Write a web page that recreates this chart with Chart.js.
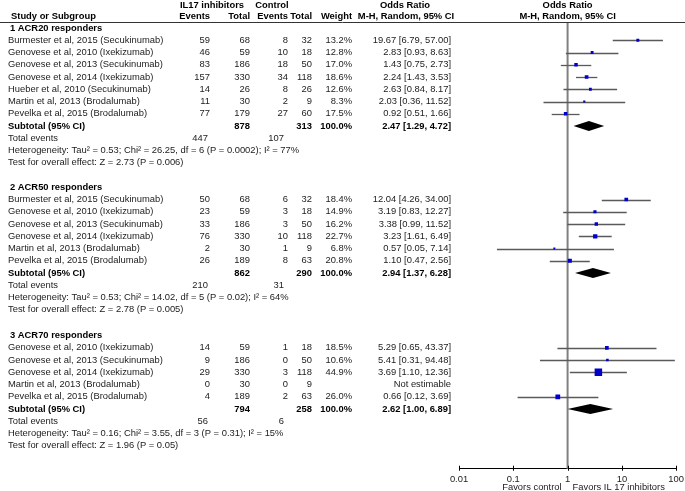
<!DOCTYPE html>
<html><head><meta charset="utf-8">
<script src="https://cdn.jsdelivr.net/npm/chart.js@4/dist/chart.umd.min.js"></script>
<style>html,body{margin:0;padding:0;background:#fff}canvas{display:block}</style>
</head><body>
<canvas id="c" width="685" height="491"></canvas>
<script>
// ---------- DATA ----------
const groupLabels = ['1 ACR20 responders', '2 ACR50 responders', '3 ACR70 responders'];

const studies20 = ['Burmester et al, 2015 (Secukinumab)', 'Genovese et al, 2010 (Ixekizumab)', 'Genovese et al, 2013 (Secukinumab)', 'Genovese et al, 2014 (Ixekizumab)', 'Hueber et al, 2010 (Secukinumab)', 'Martin et al, 2013 (Brodalumab)', 'Pevelka et al, 2015 (Brodalumab)'];
const ev1_20 = [59, 46, 83, 157, 14, 11, 77];
const tot1_20 = [68, 59, 186, 330, 26, 30, 179];
const ev2_20 = [8, 10, 18, 34, 8, 2, 27];
const tot2_20 = [32, 18, 50, 118, 26, 9, 60];
const weight20 = [13.2, 12.8, 17.0, 18.6, 12.6, 8.3, 17.5];
const or20 = [19.67, 2.83, 1.43, 2.24, 2.63, 2.03, 0.92];
const lo20 = [6.79, 0.93, 0.75, 1.43, 0.84, 0.36, 0.51];
const hi20 = [57.00, 8.63, 2.73, 3.53, 8.17, 11.52, 1.66];

const studies50 = ['Burmester et al, 2015 (Secukinumab)', 'Genovese et al, 2010 (Ixekizumab)', 'Genovese et al, 2013 (Secukinumab)', 'Genovese et al, 2014 (Ixekizumab)', 'Martin et al, 2013 (Brodalumab)', 'Pevelka et al, 2015 (Brodalumab)'];
const ev1_50 = [50, 23, 33, 76, 2, 26];
const tot1_50 = [68, 59, 186, 330, 30, 189];
const ev2_50 = [6, 3, 3, 10, 1, 8];
const tot2_50 = [32, 18, 50, 118, 9, 63];
const weight50 = [18.4, 14.9, 16.2, 22.7, 6.8, 20.8];
const or50 = [12.04, 3.19, 3.38, 3.23, 0.57, 1.10];
const lo50 = [4.26, 0.83, 0.99, 1.61, 0.05, 0.47];
const hi50 = [34.00, 12.27, 11.52, 6.49, 7.14, 2.56];

const studies70 = ['Genovese et al, 2010 (Ixekizumab)', 'Genovese et al, 2013 (Secukinumab)', 'Genovese et al, 2014 (Ixekizumab)', 'Martin et al, 2013 (Brodalumab)', 'Pevelka et al, 2015 (Brodalumab)'];
const ev1_70 = [14, 9, 29, 0, 4];
const tot1_70 = [59, 186, 330, 30, 189];
const ev2_70 = [1, 0, 3, 0, 2];
const tot2_70 = [18, 50, 118, 9, 63];
const weight70 = [18.5, 10.6, 44.9, null, 26.0];
const or70 = [5.29, 5.41, 3.69, null, 0.66];
const lo70 = [0.65, 0.31, 1.10, null, 0.12];
const hi70 = [43.37, 94.48, 12.36, null, 3.69];

const subTotal1 = [878, 862, 794];
const subTotal2 = [313, 290, 258];
const subOR = [2.47, 2.94, 2.62];
const subLo = [1.29, 1.37, 1.00];
const subHi = [4.72, 6.28, 6.89];
const totalEvents1 = [447, 210, 56];
const totalEvents2 = [107, 31, 6];
const heterogeneity = [
  'Heterogeneity: Tau\u00B2 = 0.53; Chi\u00B2 = 26.25, df = 6 (P = 0.0002); I\u00B2 = 77%',
  'Heterogeneity: Tau\u00B2 = 0.53; Chi\u00B2 = 14.02, df = 5 (P = 0.02); I\u00B2 = 64%',
  'Heterogeneity: Tau\u00B2 = 0.16; Chi\u00B2 = 3.55, df = 3 (P = 0.31); I\u00B2 = 15%'
];
const overallTest = [
  'Test for overall effect: Z = 2.73 (P = 0.006)',
  'Test for overall effect: Z = 2.78 (P = 0.005)',
  'Test for overall effect: Z = 1.96 (P = 0.05)'
];
const xTickValues = [0.01, 0.1, 1, 10, 100];
const xTickLabels = ['0.01', '0.1', '1', '10', '100'];

// ---------- LAYOUT ----------
const FONT = 'Liberation Sans, Arial, sans-serif';
const FS = 9.4;
const COL = { name: 8, grp: 10, ev1: 210, tot1: 250, ev2: 288, tot2: 312, wt: 352, orTxt: 451 };
const groupStartRows = [0, 13, 25.1];

const groups = [
  { s: studies20, e1: ev1_20, t1: tot1_20, e2: ev2_20, t2: tot2_20, w: weight20, or: or20, lo: lo20, hi: hi20 },
  { s: studies50, e1: ev1_50, t1: tot1_50, e2: ev2_50, t2: tot2_50, w: weight50, or: or50, lo: lo50, hi: hi50 },
  { s: studies70, e1: ev1_70, t1: tot1_70, e2: ev2_70, t2: tot2_70, w: weight70, or: or70, lo: lo70, hi: hi70 }
];

const studyRows = [];
const groupRows = [];
groups.forEach((g, gi) => {
  const r0 = groupStartRows[gi];
  g.s.forEach((name, i) => {
    studyRows.push({ row: r0 + 1 + i, name, e1: g.e1[i], t1: g.t1[i], e2: g.e2[i], t2: g.t2[i], w: g.w[i], or: g.or[i], lo: g.lo[i], hi: g.hi[i] });
  });
  const n = g.s.length;
  groupRows.push({ gi, header: r0, sub: r0 + n + 1, tot: r0 + n + 2, het: r0 + n + 3, test: r0 + n + 4 });
});

const fmt = v => v.toFixed(2);
const pct = v => v.toFixed(1) + '%';

const forestPlugin = {
  id: 'forest',
  beforeDatasetsDraw(chart) {
    const { ctx, scales: { x, y }, chartArea: ca } = chart;
    ctx.save();
    const x1 = x.getPixelForValue(1);
    ctx.strokeStyle = '#808080';
    ctx.lineWidth = 2;
    ctx.beginPath(); ctx.moveTo(x1, ca.top); ctx.lineTo(x1, ca.bottom); ctx.stroke();
    ctx.strokeStyle = '#5a5a5a';
    ctx.lineWidth = 1.3;
    studyRows.forEach(s => {
      if (s.or == null) return;
      const py = Math.round(y.getPixelForValue(s.row)) + 0.5;
      ctx.beginPath();
      ctx.moveTo(x.getPixelForValue(Math.max(s.lo, 0.01)), py);
      ctx.lineTo(x.getPixelForValue(Math.min(s.hi, 100)), py);
      ctx.stroke();
    });
    // axis tick marks crossing the axis line
    ctx.strokeStyle = '#000';
    ctx.lineWidth = 1;
    x.ticks.forEach(t => {
      const px = Math.round(x.getPixelForValue(t.value)) + 0.5;
      ctx.beginPath(); ctx.moveTo(px, ca.bottom - 3); ctx.lineTo(px, ca.bottom + 2); ctx.stroke();
    });
    ctx.restore();
  },
  afterDatasetsDraw(chart) {
    const { ctx, scales: { x, y } } = chart;
    ctx.save();
    // diamonds
    ctx.fillStyle = '#000';
    groupRows.forEach(g => {
      const py = y.getPixelForValue(g.sub);
      const h = 5;
      ctx.beginPath();
      ctx.moveTo(x.getPixelForValue(subLo[g.gi]), py);
      ctx.lineTo(x.getPixelForValue(subOR[g.gi]), py - h);
      ctx.lineTo(x.getPixelForValue(subHi[g.gi]), py);
      ctx.lineTo(x.getPixelForValue(subOR[g.gi]), py + h);
      ctx.closePath();
      ctx.fill();
    });
    // header line
    ctx.strokeStyle = '#333';
    ctx.lineWidth = 1;
    ctx.beginPath(); ctx.moveTo(0, 22.5); ctx.lineTo(685, 22.5); ctx.stroke();

    ctx.textBaseline = 'middle';
    const T = (txt, px, py, align, bold, color) => {
      ctx.font = (bold ? 'bold ' : '') + FS + 'px ' + FONT;
      ctx.textAlign = align;
      ctx.fillStyle = color || (bold ? '#000' : '#222');
      ctx.fillText(txt, px, py);
    };
    // headers
    T('IL17 inhibitors', 212, 5, 'center', true);
    T('Control', 272, 5, 'center', true);
    T('Odds Ratio', 405, 5, 'center', true);
    T('Odds Ratio', x.getPixelForValue(1), 5, 'center', true);
    T('Study or Subgroup', 11, 16, 'left', true);
    T('Events', COL.ev1, 16, 'right', true);
    T('Total', COL.tot1, 16, 'right', true);
    T('Events', COL.ev2, 16, 'right', true);
    T('Total', COL.tot2, 16, 'right', true);
    T('Weight', COL.wt, 16, 'right', true);
    T('M-H, Random, 95% CI', 406, 16, 'center', true);
    T('M-H, Random, 95% CI', x.getPixelForValue(1), 16, 'center', true);

    studyRows.forEach(s => {
      const py = y.getPixelForValue(s.row);
      T(s.name, COL.name, py, 'left');
      T(String(s.e1), COL.ev1, py, 'right');
      T(String(s.t1), COL.tot1, py, 'right');
      T(String(s.e2), COL.ev2, py, 'right');
      T(String(s.t2), COL.tot2, py, 'right');
      if (s.w != null) T(pct(s.w), COL.wt, py, 'right');
      T(s.or == null ? 'Not estimable' : fmt(s.or) + ' [' + fmt(s.lo) + ', ' + fmt(s.hi) + ']', COL.orTxt, py, 'right');
    });
    groupRows.forEach(g => {
      const i = g.gi;
      T(groupLabels[i], COL.grp, y.getPixelForValue(g.header), 'left', true);
      let py = y.getPixelForValue(g.sub);
      T('Subtotal (95% CI)', COL.name, py, 'left', true);
      T(String(subTotal1[i]), COL.tot1, py, 'right', true);
      T(String(subTotal2[i]), COL.tot2, py, 'right', true);
      T('100.0%', COL.wt, py, 'right', true);
      T(fmt(subOR[i]) + ' [' + fmt(subLo[i]) + ', ' + fmt(subHi[i]) + ']', COL.orTxt, py, 'right', true);
      py = y.getPixelForValue(g.tot);
      T('Total events', COL.name, py, 'left');
      T(String(totalEvents1[i]), COL.ev1 - 2, py, 'right');
      T(String(totalEvents2[i]), COL.ev2 - 4, py, 'right');
      T(heterogeneity[i], COL.name, y.getPixelForValue(g.het), 'left');
      T(overallTest[i], COL.name, y.getPixelForValue(g.test), 'left');
    });
    // favours labels
    const x1 = x.getPixelForValue(1);
    T('Favors control', x1 - 6, 487, 'right');
    T('Favors IL 17 inhibitors', x1 + 5, 487, 'left');
    ctx.restore();
  }
};

const pts = studyRows.filter(s => s.or != null);
new Chart(document.getElementById('c'), {
  type: 'scatter',
  data: {
    datasets: [{
      data: pts.map(s => ({ x: s.or, y: s.row })),
      pointStyle: 'rect',
      pointRadius: pts.map(s => (1 + s.w * 0.145) / Math.SQRT2),
      backgroundColor: '#0000CC',
      borderWidth: 0
    }]
  },
  options: {
    responsive: false,
    animation: false,
    events: [],
    layout: { padding: { left: 459, right: 8, top: 22, bottom: 5 } },
    plugins: { legend: { display: false }, tooltip: { enabled: false } },
    scales: {
      x: {
        type: 'logarithmic', min: 0.01, max: 100, position: 'bottom',
        afterBuildTicks: s => { s.ticks = xTickValues.map(v => ({ value: v })); },
        ticks: { callback: (v, i) => xTickLabels[i], font: { family: FONT, size: FS }, color: '#222', padding: 1, maxRotation: 0, autoSkip: false },
        grid: { display: true, drawOnChartArea: false, drawTicks: true, tickLength: 4, color: 'rgba(0,0,0,0)' },
        border: { display: true, color: '#000', width: 1 }
      },
      y: { type: 'linear', min: -0.49, max: 35.97, reverse: true, display: false }
    }
  },
  plugins: [forestPlugin]
});
</script>
</body></html>
